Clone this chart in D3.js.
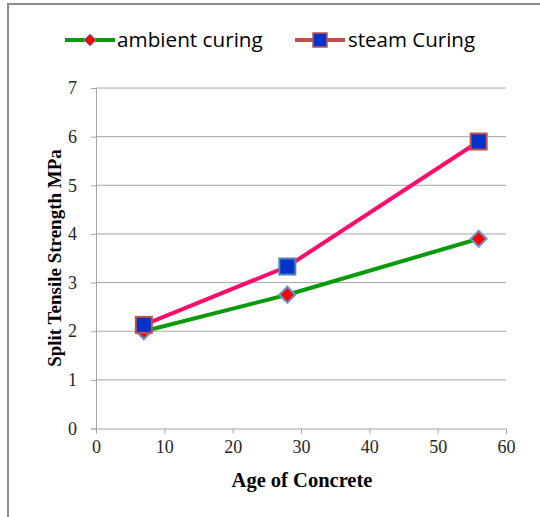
<!DOCTYPE html>
<html>
<head>
<meta charset="utf-8">
<script src="https://cdn.jsdelivr.net/npm/d3@7"></script>
<style>
  html, body { margin: 0; padding: 0; background: #fff; }
  svg { display: block; }
</style>
</head>
<body>
<svg id="chart" width="540" height="517"></svg>
<script>
// Concrete age in days and split tensile strength (MPa)
const ages = [7, 28, 56];
const ambientCuring = [2.0, 2.75, 3.9];
const steamCuring = [2.13, 3.33, 5.9];
const seriesNames = ["ambient curing", "steam Curing"];
const xTicks = [0, 10, 20, 30, 40, 50, 60];
const yTicks = [0, 1, 2, 3, 4, 5, 6, 7];

const svg = d3.select("#chart");
const gridColor = "#a6a6a6";
const serif = "'Liberation Serif', 'Times New Roman', serif";
const sans = "'Open Sans', 'Liberation Sans', sans-serif";

// Outer frame (left and top edges)
svg.append("line").attr("x1", 8).attr("x2", 8).attr("y1", 3).attr("y2", 517)
  .attr("stroke", "#8c8c8c").attr("stroke-width", 2);
svg.append("line").attr("x1", 7).attr("x2", 540).attr("y1", 4).attr("y2", 4)
  .attr("stroke", "#8c8c8c").attr("stroke-width", 2);

const x = d3.scaleLinear().domain([0, 60]).range([96, 506]);
const y = d3.scaleLinear().domain([0, 7]).range([428.5, 88]);

// Horizontal gridlines
svg.append("g").selectAll("line").data(yTicks.filter(t => t > 0)).join("line")
  .attr("x1", x(0)).attr("x2", x(60))
  .attr("y1", d => y(d)).attr("y2", d => y(d))
  .attr("stroke", gridColor).attr("stroke-width", 1);

// Axes
const xAxis = svg.append("g").attr("transform", `translate(0,${y(0)})`)
  .call(d3.axisBottom(x).tickValues(xTicks).tickFormat(d3.format("d")).tickSize(5).tickPadding(7));
const yAxis = svg.append("g").attr("transform", `translate(${x(0)},0)`)
  .call(d3.axisLeft(y).tickValues(yTicks).tickFormat(d3.format("d")).tickSize(5).tickPadding(14));
[xAxis, yAxis].forEach(g => {
  g.select(".domain").attr("stroke", gridColor);
  g.selectAll(".tick line").attr("stroke", gridColor);
  g.selectAll(".tick text").attr("fill", "#262626")
    .style("font-family", serif).style("font-size", "18px");
});

// Axis titles
svg.append("text").attr("x", 302).attr("y", 487).attr("text-anchor", "middle")
  .style("font-family", serif).style("font-size", "20.5px").style("font-weight", "bold")
  .attr("fill", "#000").text("Age of Concrete");
svg.append("text").attr("transform", `translate(61,${258}) rotate(-90)`)
  .attr("text-anchor", "middle")
  .style("font-family", serif).style("font-size", "19px").style("font-weight", "bold")
  .attr("fill", "#000").text("Split Tensile Strength MPa");

const line = d3.line().x(d => x(d[0])).y(d => y(d[1]));
const ambientPts = ages.map((a, i) => [a, ambientCuring[i]]);
const steamPts = ages.map((a, i) => [a, steamCuring[i]]);

const diamond = s => `M0,${-s}L${s},0L0,${s}L${-s},0Z`;

// Ambient curing series
svg.append("path").datum(ambientPts).attr("d", line)
  .attr("fill", "none").attr("stroke", "#0b9a0b").attr("stroke-width", 4);
svg.append("g").selectAll("path").data(ambientPts).join("path")
  .attr("transform", d => `translate(${x(d[0])},${y(d[1])})`)
  .attr("d", diamond(8))
  .attr("fill", "#ff0000").attr("stroke", "#6c97cc").attr("stroke-width", 2);

// Steam curing series
svg.append("path").datum(steamPts).attr("d", line)
  .attr("fill", "none").attr("stroke", "#ff0d6a").attr("stroke-width", 4);
const squareStroke = ["#c0504d", "#4f81bd", "#c0504d"];
svg.append("g").selectAll("rect").data(steamPts).join("rect")
  .attr("x", d => x(d[0]) - 8).attr("y", d => y(d[1]) - 8)
  .attr("width", 16).attr("height", 16)
  .attr("fill", "#0033cc")
  .attr("stroke", (d, i) => squareStroke[i]).attr("stroke-width", 2);

// Legend
const legY = 40;
const leg1 = svg.append("g");
leg1.append("line").attr("x1", 65).attr("x2", 115).attr("y1", legY).attr("y2", legY)
  .attr("stroke", "#0b9a0b").attr("stroke-width", 4);
leg1.append("path").attr("transform", `translate(90,${legY})`).attr("d", diamond(6))
  .attr("fill", "#ff0000").attr("stroke", "#6c97cc").attr("stroke-width", 1);
leg1.append("text").attr("x", 117).attr("y", legY + 7)
  .style("font-family", sans).style("font-size", "20.7px").attr("fill", "#000")
  .text(seriesNames[0]);

const leg2 = svg.append("g");
leg2.append("line").attr("x1", 295).attr("x2", 345).attr("y1", legY).attr("y2", legY)
  .attr("stroke", "#c0504d").attr("stroke-width", 4);
leg2.append("rect").attr("x", 313).attr("y", legY - 7).attr("width", 14).attr("height", 14)
  .attr("fill", "#0033cc").attr("stroke", "#c0504d").attr("stroke-width", 1.5);
leg2.append("text").attr("x", 348).attr("y", legY + 7)
  .style("font-family", sans).style("font-size", "20.5px").attr("fill", "#000")
  .text(seriesNames[1]);
</script>
</body>
</html>
